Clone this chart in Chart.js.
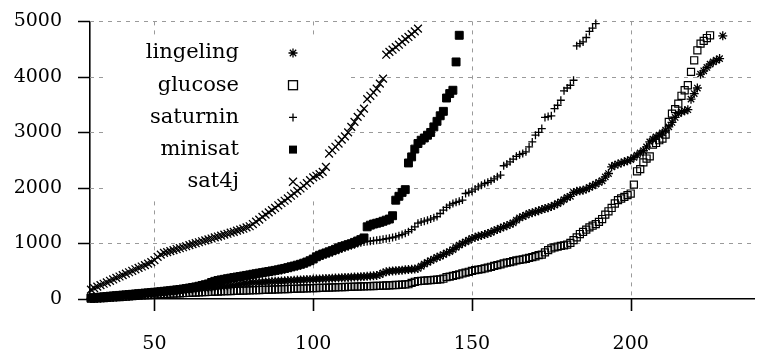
<!DOCTYPE html>
<html>
<head>
<meta charset="utf-8">
<script src="https://cdn.jsdelivr.net/npm/chart.js@4/dist/chart.umd.min.js"></script>
<style>
  html, body { margin: 0; padding: 0; background: #fff; }
  #cactus { display: block; }
</style>
</head>
<body>
<canvas id="cactus" width="761" height="356"></canvas>
<script>
// number of solved instances starts at 30 for every solver (plot is clipped there)
const firstX = 30;
const xTicks = [50, 100, 150, 200];
const yTicks = [0, 1000, 2000, 3000, 4000, 5000];
const solverNames = ['lingeling', 'glucose', 'saturnin', 'minisat', 'sat4j'];

// runtimes (s), one per solved instance
const lingeling = [
  10, 13, 16, 20, 24, 28, 32, 36, 41, 45,
  50, 55, 60, 64, 69, 74, 79, 84, 89, 94,
  100, 105, 110, 115, 121, 127, 132, 138, 144, 150,
  156, 162, 168, 174, 180, 186, 192, 198, 204, 210,
  216, 222, 228, 235, 242, 249, 256, 264, 272, 280,
  290, 294, 298, 301, 304, 308, 311, 314, 318, 321,
  324, 327, 331, 334, 337, 340, 343, 347, 350, 352,
  355, 358, 361, 364, 368, 371, 374, 377, 380, 383,
  386, 389, 392, 395, 398, 401, 404, 408, 413, 418,
  424, 440, 470, 490, 500, 505, 510, 515, 520, 525,
  530, 535, 540, 550, 590, 630, 660, 690, 720, 750,
  770, 800, 830, 855, 890, 930, 970, 1000, 1030, 1060,
  1090, 1110, 1130, 1145, 1160, 1180, 1200, 1230, 1250, 1275,
  1300, 1320, 1345, 1370, 1420, 1460, 1485, 1510, 1540, 1555,
  1570, 1590, 1610, 1630, 1645, 1665, 1690, 1720, 1750, 1790,
  1830, 1850, 1920, 1940, 1950, 1960, 1980, 2010, 2040, 2070,
  2100, 2130, 2200, 2260, 2380, 2410, 2430, 2450, 2470, 2490,
  2510, 2550, 2590, 2630, 2670, 2740, 2830, 2880, 2920, 2950,
  2990, 3040, 3100, 3180, 3270, 3340, 3370, 3390, 3410, 3600,
  3700, 3800, 4050, 4110, 4170, 4230, 4270, 4300, 4330, 4740
];
const glucose = [
  5, 8, 11, 14, 17, 20, 24, 28, 32, 36,
  40, 44, 48, 52, 56, 60, 64, 68, 72, 76,
  80, 83, 86, 89, 92, 95, 98, 100, 103, 106,
  109, 112, 115, 117, 120, 122, 125, 127, 130, 132,
  135, 137, 140, 142, 144, 146, 148, 150, 152, 154,
  156, 158, 160, 162, 164, 166, 168, 170, 172, 174,
  176, 178, 180, 182, 184, 186, 188, 190, 192, 194,
  196, 198, 200, 202, 204, 206, 208, 210, 212, 214,
  216, 218, 220, 222, 224, 226, 228, 230, 232, 234,
  236, 238, 240, 243, 246, 249, 252, 255, 258, 262,
  266, 290, 310, 320, 325, 330, 335, 340, 345, 350,
  355, 365, 395, 405, 415, 430, 445, 460, 475, 490,
  505, 520, 530, 540, 550, 565, 580, 595, 610, 625,
  640, 655, 665, 680, 695, 705, 715, 725, 740, 755,
  770, 790, 800, 840, 880, 910, 930, 945, 955, 965,
  980, 1010, 1060, 1110, 1170, 1210, 1250, 1290, 1320, 1350,
  1390, 1440, 1520, 1580, 1640, 1720, 1780, 1810, 1840, 1870,
  1900, 2060, 2300, 2340, 2460, 2530, 2570, 2780, 2810, 2860,
  2890, 2960, 3190, 3340, 3420, 3520, 3660, 3760, 3850, 4090,
  4300, 4480, 4600, 4650, 4700, 4750
];
const saturnin = [
  15, 19, 24, 29, 34, 39, 44, 49, 54, 59,
  64, 69, 74, 79, 84, 89, 94, 99, 104, 109,
  114, 119, 124, 130, 135, 141, 148, 155, 162, 170,
  178, 187, 196, 206, 217, 230, 243, 256, 278, 296,
  312, 323, 334, 344, 354, 364, 374, 384, 394, 404,
  414, 424, 434, 444, 454, 464, 474, 484, 494, 504,
  515, 527, 540, 555, 570, 585, 600, 620, 640, 665,
  690, 728, 755, 775, 795, 815, 835, 858, 880, 902,
  920, 940, 958, 978, 998, 1015, 1028, 1035, 1042, 1050,
  1058, 1066, 1075, 1085, 1095, 1108, 1120, 1140, 1160, 1185,
  1212, 1250, 1300, 1365, 1385, 1402, 1420, 1440, 1462, 1485,
  1540, 1600, 1650, 1690, 1720, 1742, 1760, 1782, 1900, 1920,
  1942, 1980, 2020, 2050, 2080, 2102, 2130, 2162, 2200, 2232,
  2400, 2430, 2470, 2520, 2570, 2600, 2622, 2650, 2740, 2830,
  2950, 3000, 3070, 3270, 3285, 3300, 3430, 3490, 3580, 3750,
  3800, 3850, 3940, 4560, 4600, 4630, 4710, 4820, 4880, 4960
];
const minisat = [
  20, 24, 29, 34, 39, 44, 50, 55, 60, 65,
  70, 75, 80, 85, 90, 96, 101, 106, 111, 116,
  122, 127, 132, 139, 145, 151, 158, 165, 172, 180,
  188, 198, 208, 218, 230, 244, 258, 272, 298, 318,
  334, 345, 355, 366, 376, 386, 396, 405, 415, 425,
  435, 446, 455, 466, 475, 486, 495, 506, 516, 526,
  540, 551, 565, 580, 594, 610, 626, 645, 666, 690,
  720, 760, 788, 810, 830, 850, 872, 895, 920, 944,
  960, 980, 996, 1020, 1045, 1070, 1100, 1300, 1330, 1350,
  1365, 1380, 1400, 1420, 1440, 1500, 1780, 1850, 1920, 1970,
  2450, 2560, 2700, 2800, 2860, 2900, 2950, 3000, 3100, 3200,
  3300, 3380, 3620, 3700, 3760, 4270, 4750
];
const sat4j = [
  170, 195, 222, 250, 275, 300, 328, 352, 380, 405,
  430, 458, 482, 508, 535, 560, 585, 610, 636, 665,
  700, 760, 800, 830, 845, 862, 880, 900, 915, 932,
  950, 970, 988, 1005, 1022, 1040, 1055, 1075, 1090, 1110,
  1125, 1142, 1160, 1175, 1195, 1210, 1232, 1250, 1266, 1290,
  1310, 1350, 1392, 1430, 1478, 1520, 1560, 1602, 1640, 1688,
  1730, 1770, 1812, 1860, 1900, 1948, 1990, 2040, 2088, 2140,
  2190, 2220, 2250, 2290, 2380, 2620, 2680, 2742, 2800, 2870,
  2930, 3000, 3100, 3190, 3280, 3350, 3430, 3600, 3660, 3720,
  3790, 3880, 3970, 4400, 4450, 4490, 4535, 4580, 4630, 4680,
  4720, 4770, 4820, 4870
];

const serif = '"DejaVu Serif", "Liberation Serif", serif';
Chart.defaults.font.family = serif;
Chart.defaults.font.size = 19;
Chart.defaults.color = '#000';

function toPoints(values) {
  return values.map((v, i) => ({ x: firstX + i, y: v }));
}

// dashed grid + outward tick marks drawn by hand (gnuplot look)
const gridPlugin = {
  id: 'gnuplotGrid',
  beforeDatasetsDraw(chart) {
    const { ctx, chartArea: a, scales: { x, y } } = chart;
    ctx.save();
    ctx.strokeStyle = '#9a9a9a';
    ctx.lineWidth = 1;
    ctx.setLineDash([4, 5]);
    ctx.beginPath();
    xTicks.forEach(v => {
      const px = Math.round(x.getPixelForValue(v)) + 0.5;
      ctx.moveTo(px, a.top); ctx.lineTo(px, a.bottom);
    });
    yTicks.forEach(v => {
      if (v === 0) return;
      const py = Math.round(y.getPixelForValue(v)) + 0.5;
      ctx.moveTo(a.left, py); ctx.lineTo(a.right, py);
    });
    ctx.stroke();
    // opaque key box
    ctx.setLineDash([]);
    ctx.fillStyle = '#fff';
    ctx.fillRect(108, 37, 238, 163);
    ctx.restore();
  },
  afterDraw(chart) {
    const { ctx, chartArea: a, scales: { x, y } } = chart;
    ctx.save();
    ctx.strokeStyle = '#000';
    ctx.lineWidth = 1.6;
    ctx.beginPath();
    xTicks.forEach(v => {
      const px = Math.round(x.getPixelForValue(v)) + 0.5;
      ctx.moveTo(px, a.bottom); ctx.lineTo(px, a.bottom + 12);
    });
    yTicks.forEach(v => {
      const py = Math.round(y.getPixelForValue(v)) + 0.5;
      ctx.moveTo(a.left, py); ctx.lineTo(a.left - 12, py);
    });
    ctx.stroke();
    ctx.restore();
  }
};

// gnuplot style key: labels right aligned, sample to the right
const keyPlugin = {
  id: 'gnuplotKey',
  afterDraw(chart) {
    const ctx = chart.ctx;
    const textRight = 239, markX = 293, rowTop = 53, rowGap = 32.2;
    ctx.save();
    ctx.font = '21px ' + serif;
    ctx.fillStyle = '#000';
    ctx.strokeStyle = '#000';
    ctx.lineWidth = 1.3;
    ctx.textAlign = 'right';
    ctx.textBaseline = 'middle';
    solverNames.forEach((name, i) => {
      const y = rowTop + i * rowGap;
      ctx.fillText(name, textRight, y);
      ctx.beginPath();
      if (name === 'lingeling') {
        ctx.moveTo(markX - 4.5, y); ctx.lineTo(markX + 4.5, y);
        ctx.moveTo(markX, y - 4.5); ctx.lineTo(markX, y + 4.5);
        ctx.moveTo(markX - 3.2, y - 3.2); ctx.lineTo(markX + 3.2, y + 3.2);
        ctx.moveTo(markX - 3.2, y + 3.2); ctx.lineTo(markX + 3.2, y - 3.2);
        ctx.stroke();
      } else if (name === 'glucose') {
        ctx.strokeRect(markX - 4.5, y - 4.5, 9, 9);
      } else if (name === 'saturnin') {
        ctx.moveTo(markX - 4, y); ctx.lineTo(markX + 4, y);
        ctx.moveTo(markX, y - 4); ctx.lineTo(markX, y + 4);
        ctx.stroke();
      } else if (name === 'minisat') {
        ctx.fillRect(markX - 4, y - 4, 8, 8);
      } else {
        ctx.moveTo(markX - 4, y - 4); ctx.lineTo(markX + 4, y + 4);
        ctx.moveTo(markX - 4, y + 4); ctx.lineTo(markX + 4, y - 4);
        ctx.stroke();
      }
    });
    ctx.restore();
  }
};

// tick marks are drawn by the plugin; library ticks kept only for label spacing
const hiddenTicks = len => ({
  display: true, drawOnChartArea: false, drawTicks: true,
  tickLength: len, tickColor: 'rgba(0,0,0,0)', color: 'rgba(0,0,0,0)'
});

new Chart(document.getElementById('cactus'), {
  type: 'scatter',
  data: {
    datasets: [
      { label: 'lingeling', data: toPoints(lingeling), order: 5, pointStyle: 'star', pointRadius: 4.5,
        borderColor: '#000', backgroundColor: '#000', pointBorderWidth: 1.3 },
      { label: 'glucose', data: toPoints(glucose), order: 4, pointStyle: 'rect', pointRadius: 5,
        borderColor: '#000', backgroundColor: 'rgba(0,0,0,0)', pointBorderWidth: 1.2 },
      { label: 'saturnin', data: toPoints(saturnin), order: 3, pointStyle: 'cross', pointRadius: 4,
        borderColor: '#000', backgroundColor: '#000', pointBorderWidth: 1.3 },
      { label: 'minisat', data: toPoints(minisat), order: 2, pointStyle: 'rect', pointRadius: 5.6,
        borderColor: '#000', backgroundColor: '#000', pointBorderWidth: 1 },
      { label: 'sat4j', data: toPoints(sat4j), order: 1, pointStyle: 'crossRot', pointRadius: 5.5,
        borderColor: '#000', backgroundColor: '#000', pointBorderWidth: 1.3 }
    ]
  },
  options: {
    responsive: false,
    animation: false,
    events: [],
    clip: 8,
    layout: { padding: { top: 21, right: 0, bottom: 0, left: 0 } },
    plugins: { legend: { display: false }, tooltip: { enabled: false } },
    scales: {
      x: {
        type: 'linear',
        min: 29.7,
        max: 238.9,
        afterBuildTicks: s => { s.ticks = xTicks.map(v => ({ value: v })); },
        afterFit: s => { s.height = 57; },
        grid: hiddenTicks(11),
        border: { display: true, color: '#000', width: 1.6 },
        ticks: { padding: 23, maxRotation: 0, autoSkip: false, callback: v => String(v) }
      },
      y: {
        type: 'linear',
        min: 0,
        max: 5000,
        afterBuildTicks: s => { s.ticks = yTicks.map(v => ({ value: v })); },
        afterFit: s => { s.width = 90; },
        grid: hiddenTicks(18),
        border: { display: true, color: '#000', width: 1.6 },
        ticks: { padding: 10, autoSkip: false, callback: v => String(v) }
      }
    }
  },
  plugins: [gridPlugin, keyPlugin]
});
</script>
</body>
</html>
